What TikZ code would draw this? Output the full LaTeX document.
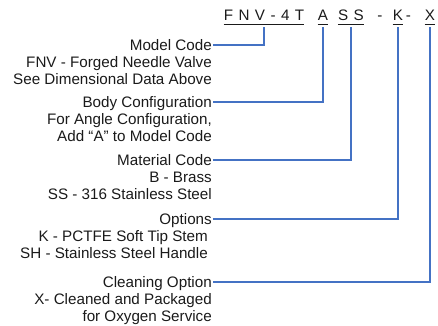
\documentclass[tikz,border=0pt]{standalone}
\usepackage{fontspec}
\setmainfont{Liberation Sans}
\definecolor{linkblue}{HTML}{4472C4}
\definecolor{inkgray}{HTML}{1A1A1A}
\begin{document}
\begin{tikzpicture}[x=1pt,y=-1pt]
	\tikzset{title/.style = {anchor=base east, inner xsep=1pt, inner ysep=0pt, text height=10pt, text depth=0pt, text=inkgray, font=\fontsize{15.2}{17}\selectfont}}
	\tikzset{desc/.style = {anchor=base east, inner sep=0pt, align=right, text=inkgray, font=\fontsize{15.2}{17}\selectfont}}
	\tikzset{code/.style = {anchor=base, inner xsep=0pt, inner ysep=6pt, text=inkgray, font=\fontsize{15.2}{17}\selectfont}}
	\tikzset{link/.style = {draw=linkblue, line width=1.2pt}}
	\tikzset{uline/.style = {draw=inkgray, line width=0.9pt}}

	\useasboundingbox (0,0) rectangle (438,325);

	% part number
	\node[code] (C_fnv) at (264,20.7) {\addfontfeature{LetterSpace=8}F N V - 4 T};
	\node[code] (C_a) at (323,20.7) {A};
	\node[code] (C_ss) at (351,20.7) {\addfontfeature{LetterSpace=8}S S};
	\node[code] (C_d1) at (380,20.7) {-};
	\node[code] (C_k) at (398,20.7) {K};
	\node[code] (C_d2) at (408.5,20.7) {-};
	\node[code] (C_x) at (430,20.7) {X};

	\draw[uline] ([yshift=-3.3pt]C_fnv.base west) -- ([yshift=-3.3pt]C_fnv.base east);
	\draw[uline] ([yshift=-3.3pt]C_a.base west) -- ([yshift=-3.3pt]C_a.base east);
	\draw[uline] ([yshift=-3.3pt]C_ss.base west) -- ([yshift=-3.3pt]C_ss.base east);
	\draw[uline] ([yshift=-3.3pt]C_k.base west) -- ([yshift=-3.3pt]C_k.base east);
	\draw[uline] ([yshift=-3.3pt]C_x.base west) -- ([yshift=-3.3pt]C_x.base east);

	% labels (desc nodes sit on the baseline of their last line)
	\node[title] (T_model) at (213,50) {Model Code};
	\node[desc] (D_model) at (212,84.5) {FNV - Forged Needle Valve\\See Dimensional Data Above};

	\node[title] (T_body) at (213,107) {Body Configuration};
	\node[desc] (D_body) at (212,141.5) {For Angle Configuration,\\Add “A” to Model Code};

	\node[title] (T_mat) at (213,165) {Material Code};
	\node[desc] (D_mat) at (212,199.5) {B - Brass\\SS - 316 Stainless Steel};

	\node[title] (T_opt) at (213,224) {Options\hspace{4pt}};
	\node[desc] (D_opt) at (208,258.5) {K - PCTFE Soft Tip Stem\\SH - Stainless Steel Handle};

	\node[title] (T_clean) at (213,287) {Cleaning Option};
	\node[desc] (D_clean) at (212,321.5) {X- Cleaned and Packaged\\for Oxygen Service};

	% connectors
	\draw[link] (T_model.east) -| (C_fnv.south);
	\draw[link] (T_body.east) -| (C_a.south);
	\draw[link] (T_mat.east) -| (C_ss.south);
	\draw[link] (T_opt.east) -| (C_k.south);
	\draw[link] (T_clean.east) -| (C_x.south);

\end{tikzpicture}
\end{document}
